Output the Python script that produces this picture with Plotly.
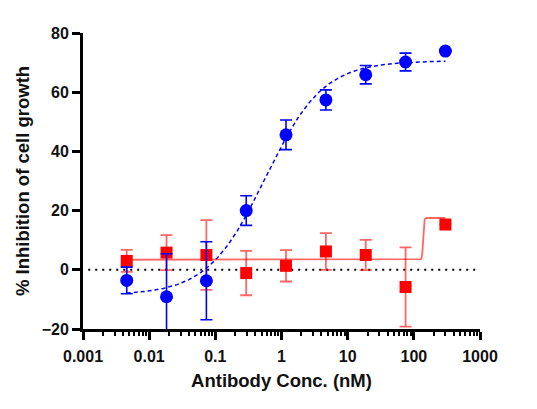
import numpy as np
import plotly.graph_objects as go

# 4-fold dilution series, nM
conc = [0.00458, 0.0183, 0.0732, 0.293, 1.17, 4.69, 18.75, 75, 300]

# blue circles
blue_mean = [-3.6, -9.1, -3.7, 20.0, 45.6, 57.4, 65.9, 70.2, 73.9]
blue_err = [4.5, 14.5, 13.2, 5.0, 5.0, 3.4, 3.1, 3.0, 0]

# red squares
red_mean = [3.0, 5.8, 5.0, -1.1, 1.35, 6.2, 5.0, -5.8, 15.3]
red_err = [3.7, 5.9, 11.8, 7.5, 5.3, 6.2, 5.1, 13.4, 0]

# 4PL fit parameters: bottom, top, EC50, hill
blue_fit = [-8.5, 70.6, 0.57, 1.0]
red_fit = [3.4, 17.5, 138, 60]

x_ticks = [0.001, 0.01, 0.1, 1, 10, 100, 1000]
x_ticklabels = ["0.001", "0.01", "0.1", "1", "10", "100", "1000"]
y_ticks = [-20, 0, 20, 40, 60, 80]


def four_pl(x, p):
    bottom, top, ec50, hill = p
    return bottom + (top - bottom) / (1 + (ec50 / x) ** hill)


xs = np.logspace(np.log10(conc[0]), np.log10(conc[-1]), 800)

BLUE = "#0000FF"
RED = "#FF0000"
FONT = "Liberation Sans, Arial, sans-serif"

fig = go.Figure()

# zero reference line
fig.add_trace(go.Scatter(
    x=[0.0012, 900], y=[0, 0], mode="lines",
    line=dict(color="black", width=2, dash="2px,5px"),
    hoverinfo="skip"))

fig.add_trace(go.Scatter(
    x=xs, y=four_pl(xs, blue_fit), mode="lines",
    line=dict(color=BLUE, width=1.5, dash="4px,3px")))

fig.add_trace(go.Scatter(
    x=xs, y=four_pl(xs, red_fit), mode="lines",
    line=dict(color="rgba(255,0,0,0.6)", width=1.8)))

fig.add_trace(go.Scatter(
    x=conc, y=red_mean, mode="markers",
    marker=dict(symbol="square", size=12, color=RED),
    error_y=dict(type="data", array=red_err, color="rgba(255,0,0,0.6)",
                 thickness=1.8, width=6)))

fig.add_trace(go.Scatter(
    x=conc, y=blue_mean, mode="markers",
    marker=dict(symbol="circle", size=13, color=BLUE),
    error_y=dict(type="data", array=blue_err, color=BLUE,
                 thickness=1.6, width=6)))

tick_font = dict(family=FONT, size=16, color="#111", weight="bold")
title_font = dict(family=FONT, size=18.5, color="#111", weight="bold")

fig.update_layout(
    width=537, height=409,
    margin=dict(l=75, r=65, t=25, b=88),
    paper_bgcolor="white", plot_bgcolor="white",
    showlegend=False,
    xaxis=dict(
        type="log", range=[-3, 3],
        tickvals=x_ticks, ticktext=x_ticklabels,
        ticks="outside", ticklen=8, tickwidth=2.5, tickcolor="black",
        tickfont=tick_font, ticklabelstandoff=3,
        showgrid=False, zeroline=False,
        showline=True, linecolor="black", linewidth=3,
        minor=dict(ticks="outside", ticklen=4, tickwidth=2,
                   tickcolor="black", dtick="D1", showgrid=False),
        title=dict(text="Antibody Conc. (nM)", standoff=10, font=title_font),
    ),
    yaxis=dict(
        range=[-20, 80], tickvals=y_ticks,
        ticks="outside", ticklen=8, tickwidth=2.5, tickcolor="black",
        tickfont=tick_font, showgrid=False, zeroline=False,
        showline=True, linecolor="black", linewidth=3,
        title=dict(text="% Inhibition of cell growth", standoff=8,
                   font=title_font),
    ),
)

fig.write_html("out.html")
